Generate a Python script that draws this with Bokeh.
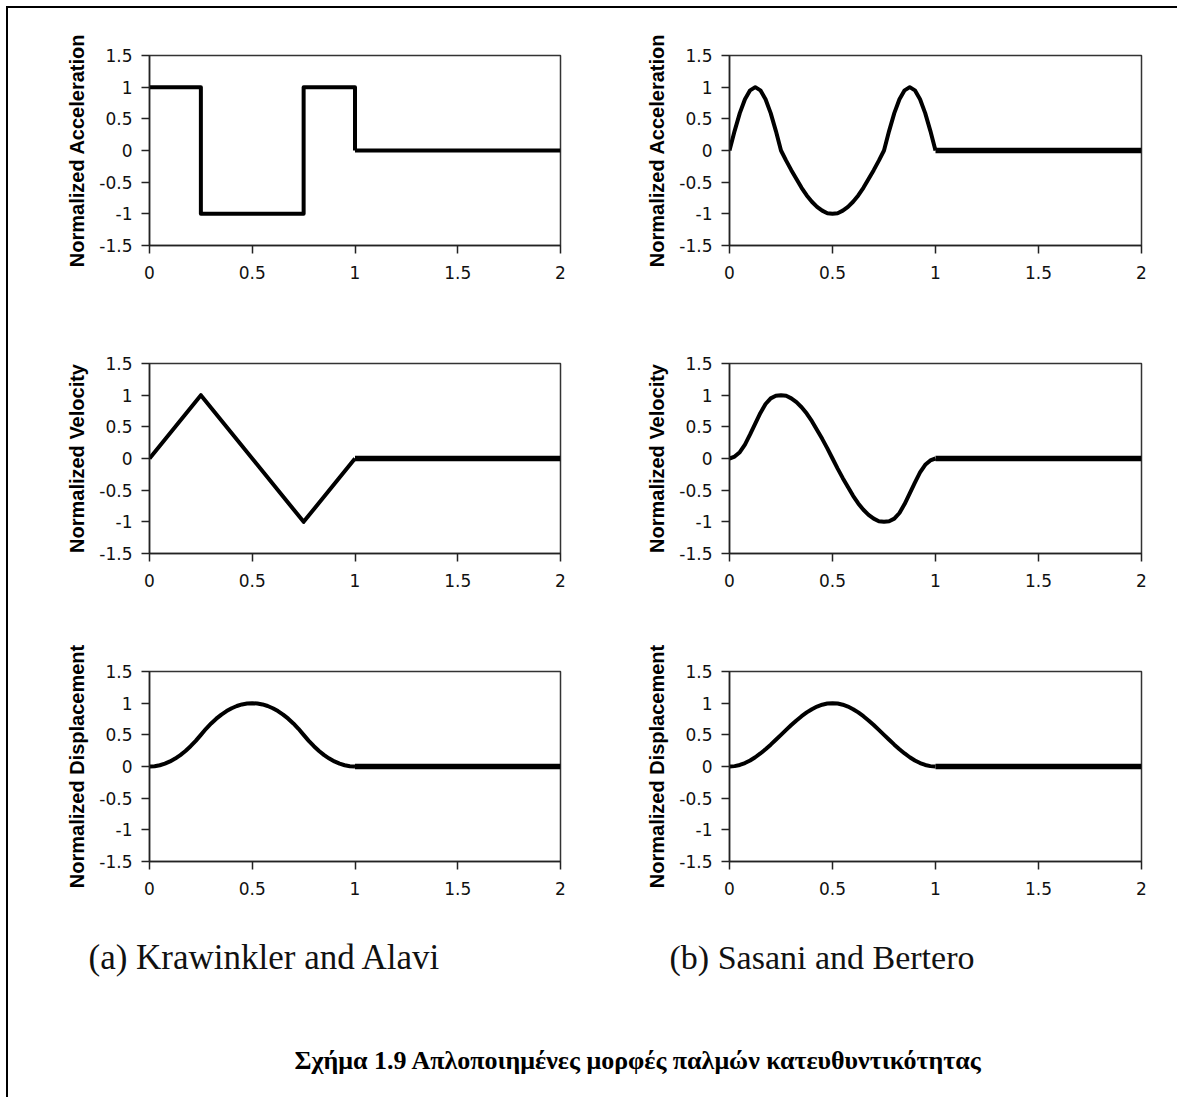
from bokeh.plotting import figure
from bokeh.layouts import column, row
from bokeh.models import Range1d, FixedTicker, Label
from bokeh.embed import file_html
from bokeh.resources import INLINE

# Axis ticks and their printed labels
x_ticks = [0, 0.5, 1, 1.5, 2]
x_tick_labels = ["0", "0.5", "1", "1.5", "2"]
y_ticks = [-1.5, -1, -0.5, 0, 0.5, 1, 1.5]
y_tick_labels = ["-1.5", "-1", "-0.5", "0", "0.5", "1", "1.5"]

# Normalized time grid for the smooth pulse shapes (t / Tp)
t_smooth = [0, 0.025, 0.05, 0.075, 0.1, 0.125, 0.15, 0.175, 0.2, 0.225,
            0.25, 0.275, 0.3, 0.325, 0.35, 0.375, 0.4, 0.425, 0.45, 0.475,
            0.5, 0.525, 0.55, 0.575, 0.6, 0.625, 0.65, 0.675, 0.7, 0.725,
            0.75, 0.775, 0.8, 0.825, 0.85, 0.875, 0.9, 0.925, 0.95, 0.975, 1.0]

# Free vibration part after the pulse (zero)
t_tail = [1.0, 2.0]
v_tail = [0.0, 0.0]

# (a) Krawinkler and Alavi
ka_acc_t = [0, 0.25, 0.25, 0.75, 0.75, 1.0, 1.0]
ka_acc = [1, 1, -1, -1, 1, 1, 0]
ka_vel_t = [0, 0.25, 0.75, 1.0]
ka_vel = [0, 1, -1, 0]
ka_disp = [0, 0.005, 0.02, 0.045, 0.08, 0.125, 0.18, 0.245, 0.32, 0.405,
           0.5, 0.595, 0.68, 0.755, 0.82, 0.875, 0.92, 0.955, 0.98, 0.995,
           1.0, 0.995, 0.98, 0.955, 0.92, 0.875, 0.82, 0.755, 0.68, 0.595,
           0.5, 0.405, 0.32, 0.245, 0.18, 0.125, 0.08, 0.045, 0.02, 0.005, 0]

# (b) Sasani and Bertero
sb_acc = [0, 0.31, 0.59, 0.81, 0.95, 1.0, 0.95, 0.81, 0.59, 0.31,
          0, -0.16, -0.31, -0.45, -0.59, -0.71, -0.81, -0.89, -0.95, -0.99,
          -1.0, -0.99, -0.95, -0.89, -0.81, -0.71, -0.59, -0.45, -0.31, -0.16,
          0, 0.31, 0.59, 0.81, 0.95, 1.0, 0.95, 0.81, 0.59, 0.31, 0]
sb_vel = [0, 0.03, 0.1, 0.22, 0.38, 0.55, 0.72, 0.86, 0.95, 0.99,
          1.0, 0.99, 0.95, 0.89, 0.81, 0.71, 0.59, 0.45, 0.31, 0.16,
          0, -0.16, -0.31, -0.45, -0.59, -0.71, -0.81, -0.89, -0.95, -0.99,
          -1.0, -0.99, -0.95, -0.86, -0.72, -0.55, -0.38, -0.22, -0.1, -0.03, 0]
sb_disp = [0, 0.006, 0.024, 0.054, 0.095, 0.146, 0.206, 0.273, 0.345, 0.422,
           0.5, 0.578, 0.655, 0.727, 0.794, 0.854, 0.905, 0.946, 0.976, 0.994,
           1.0, 0.994, 0.976, 0.946, 0.905, 0.854, 0.794, 0.727, 0.655, 0.578,
           0.5, 0.422, 0.345, 0.273, 0.206, 0.146, 0.095, 0.054, 0.024, 0.006, 0]

TICK_FONT = "DejaVu Sans"
LABEL_FONT = "Liberation Sans"
SERIF = "Liberation Serif"


def panel(ylabel, xs, ys, tail_width, left, width, top, height, frame_w):
    right = width - left - frame_w
    bottom = height - top - 190
    p = figure(width=width, height=height,
               x_range=Range1d(0, 2), y_range=Range1d(-1.5, 1.5),
               output_backend="svg", toolbar_location=None,
               min_border_left=left, min_border_right=right,
               min_border_top=top, min_border_bottom=bottom,
               background_fill_color="white", border_fill_color="white")
    p.grid.visible = False
    p.outline_line_color = "#333333"
    p.outline_line_width = 1.5

    for ax in (p.xaxis[0], p.yaxis[0]):
        ax.axis_line_color = "#222222"
        ax.axis_line_width = 1.5
        ax.major_tick_line_color = "#222222"
        ax.major_tick_line_width = 1.5
        ax.major_tick_in = 0
        ax.major_tick_out = 8
        ax.minor_tick_line_color = None
        ax.major_label_text_font = TICK_FONT
        ax.major_label_text_font_size = "17px"
        ax.major_label_text_color = "#111111"

    p.xaxis.ticker = FixedTicker(ticks=x_ticks)
    p.xaxis.major_label_overrides = dict(zip(x_ticks, x_tick_labels))
    p.xaxis.major_label_standoff = 12
    p.yaxis.ticker = FixedTicker(ticks=y_ticks)
    p.yaxis.major_label_overrides = dict(zip(y_ticks, y_tick_labels))
    p.yaxis.major_label_standoff = 9
    p.yaxis.axis_label = ylabel
    p.yaxis.axis_label_text_font = LABEL_FONT
    p.yaxis.axis_label_text_font_style = "bold"
    p.yaxis.axis_label_text_font_size = "20px"
    p.yaxis.axis_label_text_color = "#000000"
    p.yaxis.axis_label_standoff = 8

    p.line(t_tail, v_tail, line_color="black", line_width=tail_width)
    p.line(xs, ys, line_color="black", line_width=4, line_join="round")
    return p


LW, RW = 632, 537
rows = []
specs = [
    (300, 47,
     ("Normalized Acceleration", ka_acc_t, ka_acc, 4),
     ("Normalized Acceleration", t_smooth, sb_acc, 5.5)),
    (308, 55,
     ("Normalized Velocity", ka_vel_t, ka_vel, 5.5),
     ("Normalized Velocity", t_smooth, sb_vel, 5.5)),
    (308, 55,
     ("Normalized Displacement", t_smooth, ka_disp, 5.5),
     ("Normalized Displacement", t_smooth, sb_disp, 5.5)),
]
for h, top, a, b in specs:
    pa = panel(a[0], a[1], a[2], a[3], 141, LW, top, h, 411)
    pb = panel(b[0], b[1], b[2], b[3], 89, RW, top, h, 412)
    rows.append(row(pa, pb))

# Captions and figure title
CW, CH = LW + RW, 173
cap = figure(width=CW, height=CH, x_range=Range1d(0, CW), y_range=Range1d(CH, 0),
             output_backend="svg", toolbar_location=None,
             min_border=0, outline_line_color=None)
cap.axis.visible = False
cap.grid.visible = False
cap.add_layout(Label(x=80, y=33, text="(a) Krawinkler and Alavi",
                     text_font=SERIF, text_font_size="35px",
                     text_color="#111111", text_baseline="alphabetic"))
cap.add_layout(Label(x=661, y=33, text="(b) Sasani and Bertero",
                     text_font=SERIF, text_font_size="34px",
                     text_color="#111111", text_baseline="alphabetic"))
cap.add_layout(Label(x=633, y=136,
                     text="Σχήμα 1.9  Απλοποιημένες μορφές παλμών κατευθυντικότητας",
                     text_font=SERIF, text_font_size="26px", text_font_style="bold",
                     text_color="#000000", text_align="center",
                     text_baseline="alphabetic"))

page = column(*rows, cap,
              styles={"border-style": "solid none none solid",
                      "border-width": "2px 0px 0px 2px",
                      "border-color": "#000000",
                      "margin-left": "6px", "margin-top": "6px"})

open("out.html", "w").write(file_html(page, INLINE))
